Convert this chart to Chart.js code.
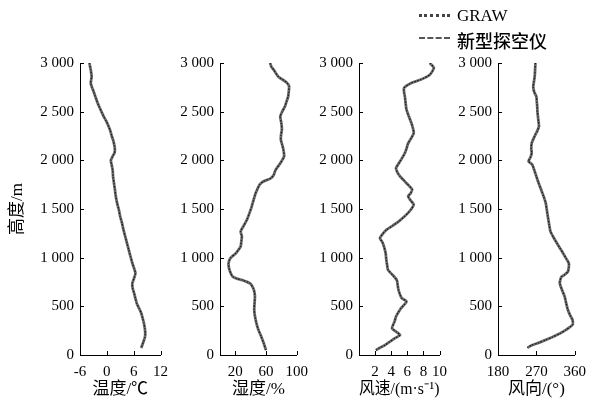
<!DOCTYPE html>
<html><head><meta charset="utf-8">
<script src="https://cdn.jsdelivr.net/npm/chart.js@4/dist/chart.umd.min.js"></script>
<style>
html,body{margin:0;padding:0;background:#fff;}
#wrap{position:relative;width:594px;height:401px;overflow:hidden;}
canvas{position:absolute;top:0;}
.lg{position:absolute;left:419px;width:31px;height:0;}
.lt{position:absolute;left:457px;color:#000;line-height:1;}
</style></head>
<body><div id="wrap">
<canvas id="c1" width="176" height="401" style="left:0px"></canvas>
<canvas id="c2" width="176" height="401" style="left:140px"></canvas>
<canvas id="c3" width="176" height="401" style="left:279px"></canvas>
<canvas id="c4" width="176" height="401" style="left:418px"></canvas>
<div class="lg" style="top:14px;border-top:3px dotted #444;"></div>
<div class="lt" style="top:6px;font:17px 'Liberation Serif',serif;">GRAW</div>
<div class="lg" style="top:37px;border-top:2px dashed #555;"></div>
<div class="lt" style="top:27px;font:500 18px 'Noto Sans CJK SC',sans-serif;">新型探空仪</div>
</div>
<script>
// ---- data ----
const seriesNames = ['GRAW', '新型探空仪'];
const yTicks = [0, 500, 1000, 1500, 2000, 2500, 3000];

const tempHeight = [3000,2930,2860,2795,2760,2700,2620,2560,2500,2450,2400,2315,2250,2210,2150,2110,2075,2050,2000,1950,1900,1830,1765,1700,1630,1560,1490,1420,1355,1290,1220,1150,1080,1010,945,890,840,790,735,680,635,580,530,480,430,380,325,270,220,180,137,100,70];
const tempValues = [-3.9,-3.6,-3.4,-3.6,-3.4,-2.9,-2.3,-1.8,-1.2,-0.7,-0.1,0.7,1.1,1.4,1.7,1.8,1.7,1.4,0.9,1.1,1.3,1.4,1.6,1.8,2.0,2.3,2.7,3.0,3.4,3.7,4.1,4.5,4.9,5.3,5.7,6.1,6.4,6.1,5.7,5.8,6.1,6.4,6.7,7.2,7.7,8.0,8.3,8.5,8.6,8.5,8.2,7.9,7.7];
const tempTicks = [-6, 0, 6, 12];

const humHeight = [3000,2960,2930,2860,2800,2760,2700,2655,2600,2555,2500,2450,2380,2315,2260,2210,2160,2110,2040,1970,1900,1850,1815,1780,1750,1700,1660,1600,1525,1460,1390,1330,1270,1220,1180,1115,1080,1045,995,945,900,875,840,805,785,770,735,685,640,600,530,465,400,325,260,190,120,50];
const humValues = [65.3,67,70,76,86.8,90,89.5,88.8,86.5,84.7,81,78.5,80,80.6,79.5,79.3,81,82.6,83.5,78.5,72.3,70,66,55.8,51.7,48.5,46.3,44,41.3,38.5,35.1,31,26.9,28.5,28,26.9,24,20.7,13.6,11.2,11.5,12.4,14,16.5,22,28.9,39.3,43.4,45,45.5,45,44.6,45.5,47.5,50,53.7,57,59.9];
const humTicks = [20, 60, 100];

const windHeight = [3000,2950,2880,2830,2795,2745,2700,2655,2580,2520,2450,2385,2330,2280,2230,2175,2120,2075,2030,1990,1920,1870,1835,1800,1765,1700,1660,1630,1590,1545,1500,1460,1420,1370,1330,1285,1240,1200,1160,1115,1050,975,920,875,820,770,720,670,620,585,550,515,480,440,395,340,275,240,205,170,135,100,75,50];
const windValues = [8.8,9.3,8.8,7.7,6.5,5.6,5.6,5.7,5.8,5.9,6.2,6.5,6.7,6.8,6.5,6.1,5.9,5.7,5.4,5.1,4.6,4.8,5.1,5.5,5.9,6.6,6.4,6.1,6.4,6.8,6.5,6.1,5.6,4.9,4.2,3.4,2.9,2.6,2.9,3.1,3.3,3.4,3.5,3.6,4.2,4.7,4.8,4.9,5.1,5.3,5.9,5.6,5.2,4.9,4.6,4.4,4.1,4.6,5.1,4.4,3.8,3.2,2.6,2.1];
const windTicks = [2, 4, 6, 8, 10];

const dirHeight = [3000,2930,2860,2800,2760,2700,2655,2600,2555,2500,2450,2400,2350,2300,2265,2220,2175,2120,2075,2030,1990,1955,1900,1835,1770,1700,1630,1560,1490,1420,1340,1270,1210,1150,1100,1045,990,945,900,855,820,805,770,735,670,600,530,465,410,360,310,260,220,185,155,125,100,75];
const dirValues = [267.8,267,266,264,262.6,265,270,271,272,272.5,273.7,275,276,272,267.8,263,259,258,259,256,251.6,260.4,265,270,275,281,287,292,294.5,297,300,303,310,318,325,332.7,340,346,346,343.8,335,329,326,325,330,336.4,340,343.8,349,354.8,354.8,340,325,308,292,275,259,249];
const dirTicks = [180, 270, 360];

// ---- drawing ----
const SERIF = "'Liberation Serif', 'Noto Sans CJK SC', serif";
const inwardTicks = {
  id: 'inwardTicks',
  afterDraw(chart) {
    const ctx = chart.ctx, xs = chart.scales.x, ys = chart.scales.y;
    const a = chart.chartArea;
    ctx.save();
    ctx.strokeStyle = '#000'; ctx.lineWidth = 1;
    ctx.beginPath();
    xs.ticks.forEach(t => { const px = Math.round(xs.getPixelForValue(t.value)) + 0.5; ctx.moveTo(px, a.bottom); ctx.lineTo(px, a.bottom - 4); });
    ys.ticks.forEach(t => { const py = Math.round(ys.getPixelForValue(t.value)) + 0.5; ctx.moveTo(a.left, py); ctx.lineTo(a.left + 4, py); });
    ctx.stroke();
    ctx.restore();
  }
};

function makeChart(id, heights, values, xmin, xmax, xticks, xtitle, showYTitle) {
  const pts = heights.map((h, i) => ({x: values[i], y: h}));
  new Chart(document.getElementById(id), {
    type: 'scatter',
    data: { datasets: [
      { label: seriesNames[0], data: pts, showLine: true, borderColor: '#6e6e6e', borderWidth: 2.8, pointRadius: 0, tension: 0.2, order: 2 },
      { label: seriesNames[1], data: pts, showLine: true, borderColor: '#1a1a1a', borderWidth: 1.2, borderDash: [1.5, 1.5], pointRadius: 0, tension: 0.2, order: 1 }
    ]},
    options: {
      responsive: false, animation: false, devicePixelRatio: 1,
      layout: { padding: { top: 63, right: 15, left: 0, bottom: 0 } },
      plugins: { legend: { display: false }, tooltip: { enabled: false } },
      scales: {
        x: {
          type: 'linear', min: xmin, max: xmax,
          afterBuildTicks: s => { s.ticks = xticks.map(v => ({value: v})); },
          afterFit: s => { s.height = 46; },
          grid: { display: true, drawOnChartArea: false, drawTicks: false, color: '#000' },
          border: { color: '#000', width: 1 },
          ticks: { color: '#000', padding: 8, font: { family: SERIF, size: 15 }, maxRotation: 0, autoSkip: false },
          title: { display: true, text: xtitle, color: '#000', padding: {top: 0, bottom: 1}, font: { family: SERIF, size: 17 } }
        },
        y: {
          type: 'linear', min: 0, max: 3000,
          afterBuildTicks: s => { s.ticks = yTicks.map(v => ({value: v})); },
          afterFit: s => { s.width = 80; },
          grid: { display: true, drawOnChartArea: false, drawTicks: false, color: '#000' },
          border: { color: '#000', width: 1 },
          ticks: { color: '#000', padding: 6, font: { family: SERIF, size: 15 },
                   callback: v => String(v).replace(/\B(?=(\d{3})+(?!\d))/g, ' ') },
          title: { display: showYTitle, text: '高度/m', color: '#000', padding: {top: 7, bottom: 0}, font: { family: SERIF, size: 17 } }
        }
      }
    },
    plugins: [inwardTicks]
  });
}

makeChart('c1', tempHeight, tempValues, -6, 12, tempTicks, '温度/℃', true);
makeChart('c2', humHeight, humValues, 0, 100, humTicks, '湿度/%', false);
makeChart('c3', windHeight, windValues, 0, 10, windTicks, '风速/(m·s⁻¹)', false);
makeChart('c4', dirHeight, dirValues, 180, 360, dirTicks, '风向/(°)', false);
</script>
</body></html>
